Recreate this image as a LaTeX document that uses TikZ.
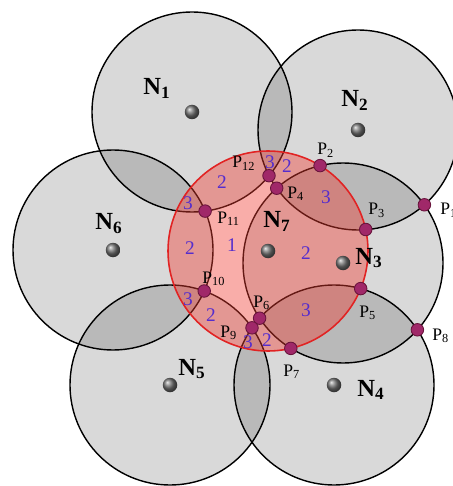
\documentclass[tikz,border=0pt]{standalone}
\usepackage{fontspec}
\setmainfont{Liberation Serif}
\usetikzlibrary{positioning}
\definecolor{hubred}{RGB}{240,60,50}
\definecolor{hubline}{RGB}{225,35,35}
\definecolor{ptfill}{RGB}{160,40,105}
\definecolor{ptline}{RGB}{105,20,60}
\definecolor{cntblue}{RGB}{85,45,205}

\begin{document}
\begin{tikzpicture}[
            x=0.2mm, y=-0.2mm,
            disc/.style={draw=black, line width=0.8pt, fill=black, fill opacity=0.15},
            hub/.style={draw=hubline, line width=0.9pt, fill=hubred, fill opacity=0.42},
            sensor/.style={circle, inner sep=0pt, minimum size=2.9mm,
            shade, shading=ball, ball color=black!55},
            cross/.style={circle, inner sep=0pt, minimum size=2.5mm,
            draw=ptline, line width=0.5pt, fill=ptfill},
            nlab/.style={anchor=base west, inner sep=0pt,
            font=\fontsize{14}{16}\selectfont\bfseries},
            plab/.style={anchor=base west, inner sep=0pt,
            font=\fontsize{10}{12}\selectfont},
            cnt/.style={inner sep=0pt, text=cntblue,
            font=\fontsize{11}{13}\selectfont}
        ]
            \useasboundingbox (0,0) rectangle (453,486);
% sensor positions
            \coordinate (c1) at (192,112);
            \coordinate (c2) at (358,130);
            \coordinate (c3) at (343,263);
            \coordinate (c4) at (334,385);
            \coordinate (c5) at (170,385);
            \coordinate (c6) at (113,250);
            \coordinate (c7) at (268,251);
% coverage discs, N7 on top
            \foreach \i in {1,2,3,6,5,4}
                \draw[disc] (c\i) circle [radius=100];
            \draw[hub] (c7) circle [radius=100];
% crossing points
            \node[cross] (p1)  at (424.4,204.8) {};
            \node[cross] (p2)  at (320.1,165.6) {};
            \node[cross] (p3)  at (365.7,229.5) {};
            \node[cross] (p4)  at (276.7,188.2) {};
            \node[cross] (p5)  at (360.7,288.6) {};
            \node[cross] (p6)  at (259.6,318.2) {};
            \node[cross] (p7)  at (290.8,348.4) {};
            \node[cross] (p8)  at (417.4,329.8) {};
            \node[cross] (p9)  at (252.0,327.8) {};
            \node[cross] (p10) at (204.2,291.0) {};
            \node[cross] (p11) at (205.1,211.1) {};
            \node[cross] (p12) at (269.0,175.7) {};
% sensors
            \foreach \i in {1,...,7}
                \node[sensor] (n\i) at (c\i) {};
% sensor labels
            \node[nlab] (ln1) at (143,95)  {N\textsubscript{1}};
            \node[nlab] (ln2) at (341,107) {N\textsubscript{2}};
            \node[nlab] (ln3) at (355,264) {N\textsubscript{3}};
            \node[nlab] (ln4) at (357,396) {N\textsubscript{4}};
            \node[nlab] (ln5) at (178,375) {N\textsubscript{5}};
            \node[nlab] (ln6) at (95,230)  {N\textsubscript{6}};
            \node[nlab] (ln7) at (263,228) {N\textsubscript{7}};
% point labels
            \node[plab] (lp1)  at (440,215) {P\textsubscript{1}};
            \node[plab] (lp2)  at (317,155) {P\textsubscript{2}};
            \node[plab] (lp3)  at (368,215) {P\textsubscript{3}};
            \node[plab] (lp4)  at (287,198) {P\textsubscript{4}};
            \node[plab] (lp5)  at (359,317) {P\textsubscript{5}};
            \node[plab] (lp6)  at (253,307) {P\textsubscript{6}};
            \node[plab] (lp7)  at (283,376) {P\textsubscript{7}};
            \node[plab] (lp8)  at (432,340) {P\textsubscript{8}};
            \node[plab] (lp9)  at (220,337) {P\textsubscript{9}};
            \node[plab] (lp10) at (202,283) {P\textsubscript{10}};
            \node[plab] (lp11) at (217,223) {P\textsubscript{11}};
            \node[plab] (lp12) at (232,168) {P\textsubscript{12}};
% coverage counts
            \node[cnt] (k1)  at (270,162) {3};
            \node[cnt] (k2)  at (287,166) {2};
            \node[cnt] (k3)  at (222,182) {2};
            \node[cnt] (k4)  at (188,203) {3};
            \node[cnt] (k5)  at (190,248) {2};
            \node[cnt] (k6)  at (232,245) {1};
            \node[cnt] (k7)  at (326,197) {3};
            \node[cnt] (k8)  at (306,253) {2};
            \node[cnt] (k9)  at (188,299) {3};
            \node[cnt] (k10) at (211,315) {2};
            \node[cnt] (k11) at (248,342) {3};
            \node[cnt] (k12) at (267,340) {2};
            \node[cnt] (k13) at (306,310) {3};
        \end{tikzpicture}
\end{document}
